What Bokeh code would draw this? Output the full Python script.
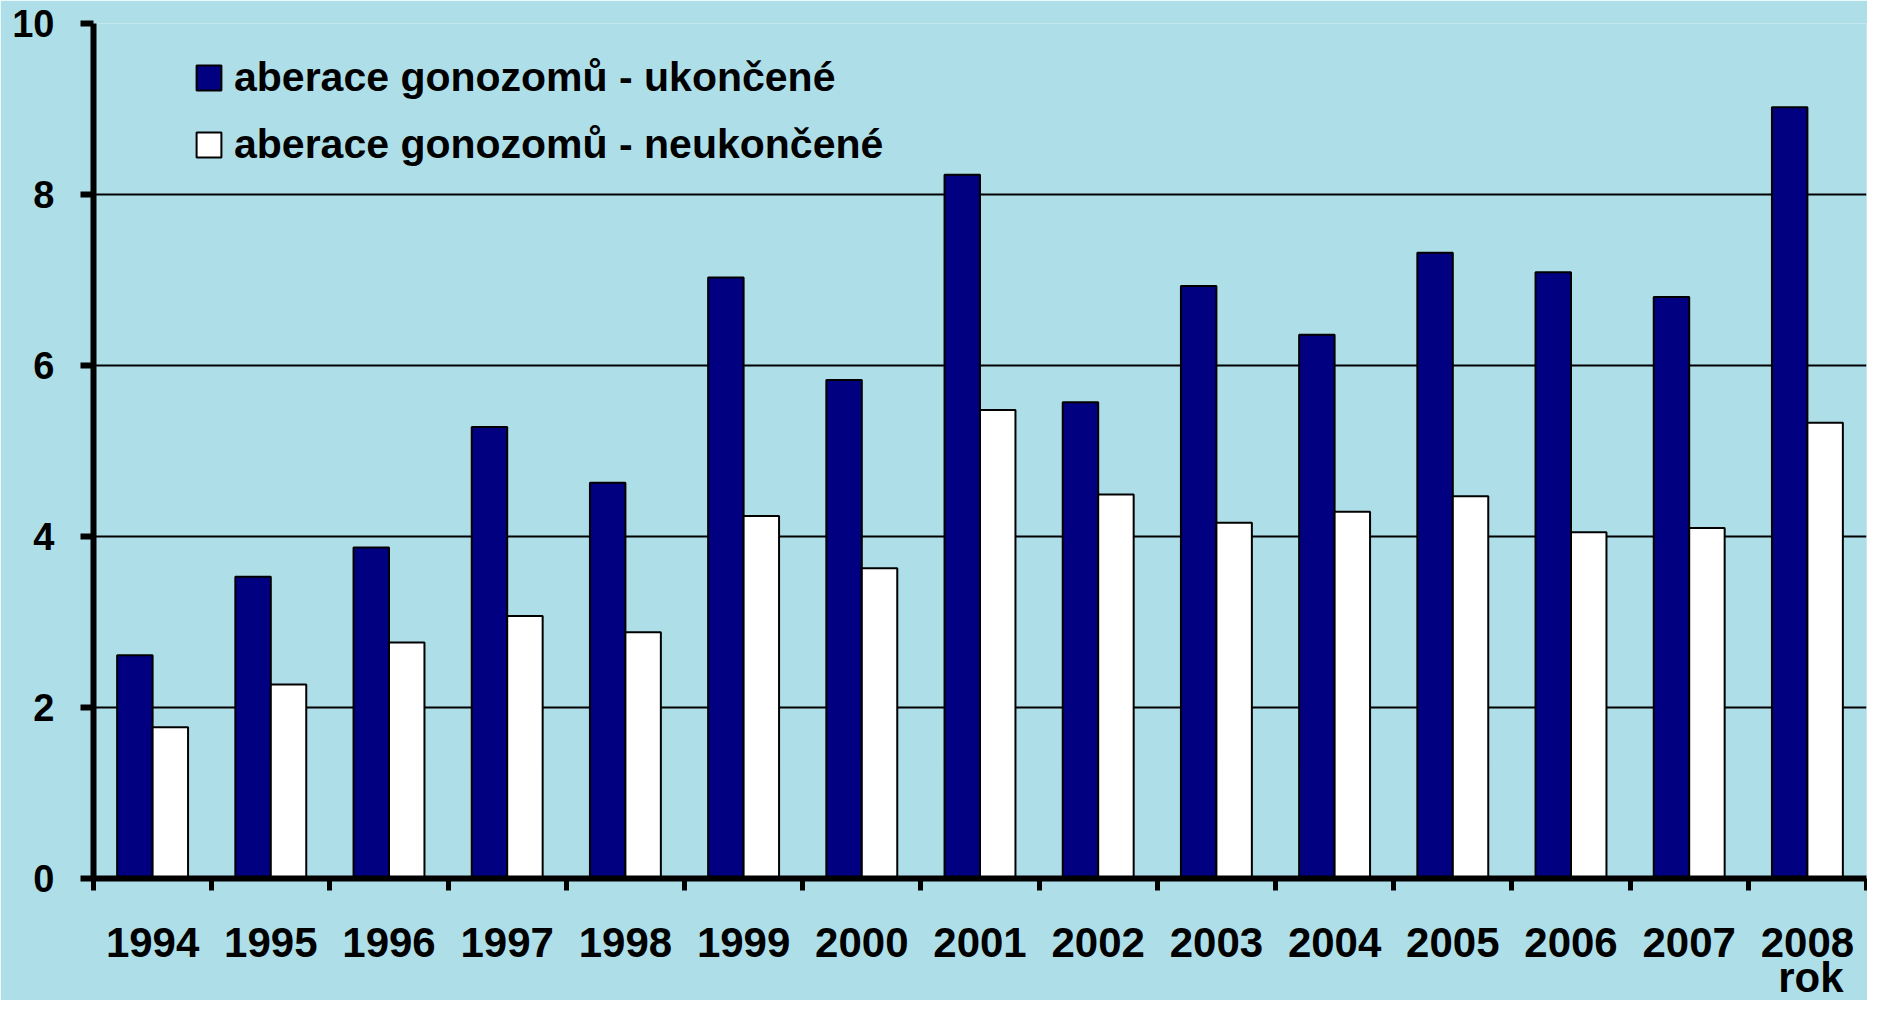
from bokeh.plotting import figure
from bokeh.models import Range1d, FixedTicker, Legend, LegendItem, Title
from bokeh.embed import file_html
from bokeh.resources import INLINE
import numpy as np

years = ["1994", "1995", "1996", "1997", "1998", "1999", "2000", "2001",
         "2002", "2003", "2004", "2005", "2006", "2007", "2008"]
ukoncene = [2.61, 3.53, 3.87, 5.28, 4.63, 7.03, 5.83, 8.23,
            5.57, 6.93, 6.36, 7.32, 7.09, 6.80, 9.02]
neukoncene = [1.77, 2.27, 2.76, 3.07, 2.88, 4.24, 3.63, 5.48,
              4.49, 4.16, 4.29, 4.47, 4.05, 4.10, 5.33]
y_ticks = [0, 2, 4, 6, 8, 10]
label_1 = "aberace gonozomů - ukončené"
label_2 = "aberace gonozomů - neukončené"
x_title = "rok"

BG = "#aedfe9"
FONT = "Liberation Sans"

n = len(years)
idx = np.arange(n)

p = figure(width=1867, height=1000, output_backend="svg", toolbar_location=None,
           x_range=Range1d(0, n), y_range=Range1d(0, 10),
           min_border_left=93, min_border_right=1, min_border_top=23, min_border_bottom=122)
p.background_fill_color = BG
p.border_fill_color = BG
p.outline_line_color = None

r1 = p.vbar(x=idx + 0.5 - 0.15, top=ukoncene, width=0.3, fill_color="#000080",
            line_color="black", line_width=2)
r2 = p.vbar(x=idx + 0.5 + 0.15, top=neukoncene, width=0.3, fill_color="white",
            line_color="black", line_width=2)

# x axis: ticks at category boundaries, labels at centres
xa = p.xaxis[0]
xa.ticker = FixedTicker(ticks=list(idx + 0.5), minor_ticks=list(range(n + 1)))
xa.major_label_overrides = {float(i + 0.5): y for i, y in enumerate(years)}
xa.major_tick_line_color = None
xa.major_tick_out = 0
xa.major_tick_in = 0
xa.minor_tick_out = 12
xa.minor_tick_in = 0
xa.minor_tick_line_width = 5
xa.minor_tick_line_color = "black"
xa.axis_line_width = 6
xa.axis_line_color = "black"
xa.major_label_standoff = 37
xa.major_label_text_font = FONT
xa.major_label_text_font_style = "bold"
xa.major_label_text_font_size = "42px"
xa.major_label_text_color = "black"

# axis title "rok" under the last category
p.add_layout(Title(text=x_title, align="right", offset=23, standoff=-16,
                   text_font=FONT, text_font_style="bold", text_font_size="42px",
                   text_color="black"), "below")

ya = p.yaxis[0]
ya.ticker = FixedTicker(ticks=y_ticks)
ya.minor_tick_line_color = None
ya.major_tick_out = 13
ya.major_tick_in = 0
ya.major_tick_line_width = 6
ya.axis_line_width = 6
ya.axis_line_color = "black"
ya.major_label_standoff = 26
ya.major_label_text_font = FONT
ya.major_label_text_font_style = "bold"
ya.major_label_text_font_size = "38px"
ya.major_label_text_color = "black"

p.xgrid.grid_line_color = None
p.ygrid.ticker = FixedTicker(ticks=y_ticks[1:])
p.ygrid.grid_line_color = "black"
p.ygrid.grid_line_width = 2

legend = Legend(items=[LegendItem(label=label_1, renderers=[r1]),
                       LegendItem(label=label_2, renderers=[r2])],
                location=(100, 710))
legend.background_fill_alpha = 0
legend.border_line_color = None
legend.padding = 0
legend.margin = 0
legend.spacing = 20
legend.glyph_width = 31
legend.glyph_height = 31
legend.label_standoff = 10
legend.label_text_font = FONT
legend.label_text_font_style = "bold"
legend.label_text_font_size = "41px"
legend.label_text_color = "black"
p.add_layout(legend, "center")

open("out.html", "w").write(file_html(p, INLINE))
